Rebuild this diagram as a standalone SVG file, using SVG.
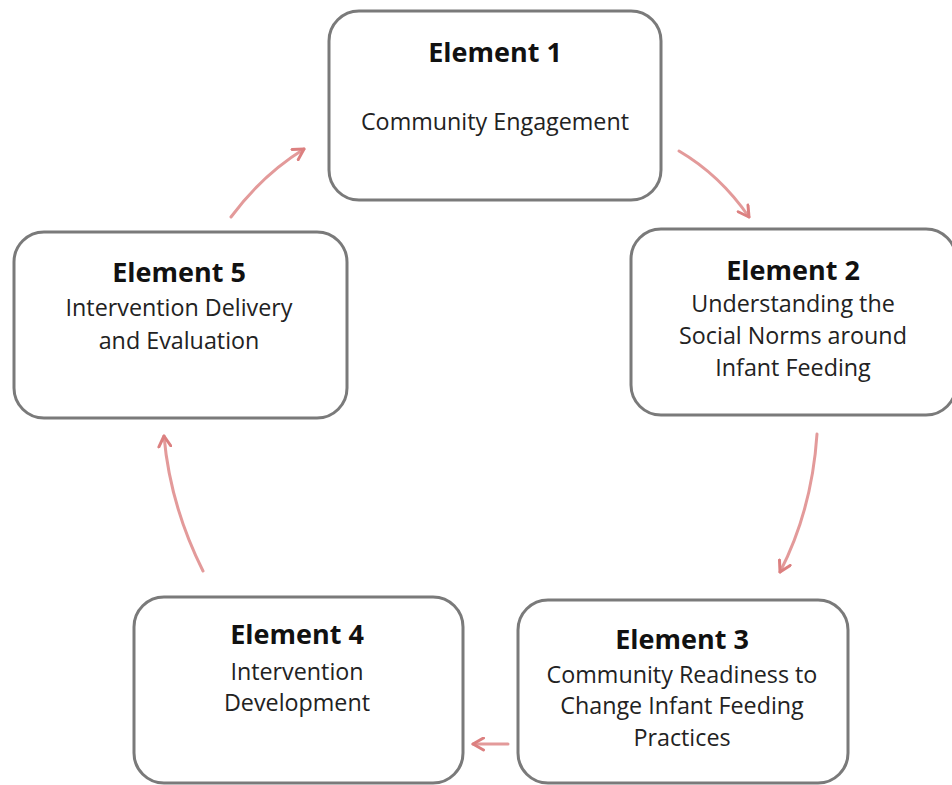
<svg xmlns="http://www.w3.org/2000/svg" width="952" height="785" viewBox="0 0 952 785">
  <defs>
    <style>
      .box { fill: #ffffff; stroke: #7a7a7a; stroke-width: 3; }
      .title { font-family: "Open Sans", "Liberation Sans", sans-serif; font-weight: bold; font-size: 27px; fill: #111; text-anchor: middle; }
      .body { font-family: "Open Sans", "Liberation Sans", sans-serif; font-size: 23.3px; fill: #222; text-anchor: middle; }
      .arrow { fill: none; stroke: #e39a9a; stroke-width: 3; stroke-linecap: round; marker-end: url(#head); }
    </style>
    <marker id="head" viewBox="0 0 10 10" refX="8" refY="5" markerWidth="5" markerHeight="5" orient="auto" markerUnits="strokeWidth">
      <path d="M1,1 L8,5 L1,9" fill="none" stroke="#dc8080" stroke-width="2" stroke-linecap="round" stroke-linejoin="round"/>
    </marker>
  </defs>

  <rect width="952" height="785" fill="#ffffff"/>

  <g id="connectors">
    <path class="arrow" d="M679,151 Q720,175 749,217"/>
    <path class="arrow" d="M817,434 Q812,510 780,572"/>
    <path class="arrow" d="M508,744 L473,744"/>
    <path class="arrow" d="M203,571 Q170,505 164,436"/>
    <path class="arrow" d="M231,217 Q262,175 304,149"/>
  </g>

  <g id="element1">
    <rect class="box" x="329" y="11" width="332" height="189" rx="30"/>
    <text class="title" x="495" y="62">Element 1</text>
    <text class="body" x="495" y="130">Community Engagement</text>
  </g>

  <g id="element2">
    <rect class="box" x="631" y="229" width="325" height="186" rx="30"/>
    <text class="title" x="793" y="280">Element 2</text>
    <text class="body" x="793" y="312">Understanding the</text>
    <text class="body" x="793" y="344">Social Norms around</text>
    <text class="body" x="793" y="376">Infant Feeding</text>
  </g>

  <g id="element3">
    <rect class="box" x="518" y="600" width="330" height="183" rx="30"/>
    <text class="title" x="682" y="649">Element 3</text>
    <text class="body" x="682" y="683">Community Readiness to</text>
    <text class="body" x="682" y="714">Change Infant Feeding</text>
    <text class="body" x="682" y="746">Practices</text>
  </g>

  <g id="element4">
    <rect class="box" x="134" y="597" width="329" height="186" rx="30"/>
    <text class="title" x="297" y="644">Element 4</text>
    <text class="body" x="297" y="680">Intervention</text>
    <text class="body" x="297" y="711">Development</text>
  </g>

  <g id="element5">
    <rect class="box" x="14" y="232" width="333" height="186" rx="30"/>
    <text class="title" x="179" y="282">Element 5</text>
    <text class="body" x="179" y="316">Intervention Delivery</text>
    <text class="body" x="179" y="349">and Evaluation</text>
  </g>
</svg>
